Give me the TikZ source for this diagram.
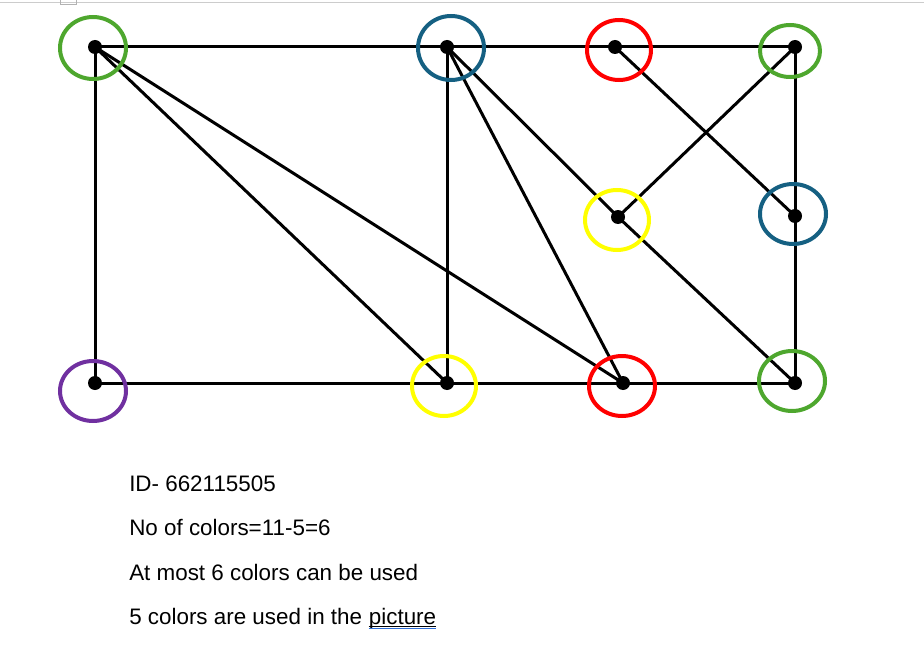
\documentclass[tikz,border=0pt]{standalone}
\usepackage{fontspec}
\setmainfont{Liberation Sans}
\usepackage{xcolor}
\usetikzlibrary{positioning}
\definecolor{cgreen}{HTML}{4EA72E}
\definecolor{cblue}{HTML}{156082}
\definecolor{cred}{HTML}{FF0000}
\definecolor{cyellow}{HTML}{FFFF00}
\definecolor{cpurple}{HTML}{7030A0}
\definecolor{spell}{HTML}{2F6FD8}
\tikzset{ring/.style={line width=3pt}}
\begin{document}
\begin{tikzpicture}[x=0.75pt,y=-0.75pt]
      \useasboundingbox (0,0) rectangle (924,649);
      \draw[gray!40,line width=0.75pt] (0,3) -- (924,3);
      \draw[gray!60,line width=0.75pt] (60,-1) rectangle (76,5);
      \begin{scope}[every node/.style={circle,fill=black,inner sep=0pt,minimum size=10.5pt}]
      \node (a) at (95,47) {};
      \node (b) at (447,47) {};
      \node (c) at (615,47) {};
      \node (d) at (795,47) {};
      \node (e) at (618,217) {};
      \node (f) at (795,216) {};
      \node (g) at (95,383) {};
      \node (h) at (447,383) {};
      \node (i) at (623,383) {};
      \node (j) at (795,383) {};
      \end{scope}
      \begin{scope}[every edge/.style={draw=black,line width=2.25pt}]
      \path (a.center) edge (b.center);
      \path (b.center) edge (c.center);
      \path (c.center) edge (d.center);
      \path (a.center) edge (g.center);
      \path (a.center) edge (h.center);
      \path (a.center) edge (i.center);
      \path (b.center) edge (h.center);
      \path (b.center) edge (i.center);
      \path (b.center) edge (e.center);
      \path (e.center) edge (j.center);
      \path (c.center) edge (f.center);
      \path (d.center) edge (e.center);
      \path (d.center) edge (f.center);
      \path (f.center) edge (j.center);
      \path (g.center) edge (h.center);
      \path (h.center) edge (i.center);
      \path (i.center) edge (j.center);
      \end{scope}
      % colour rings
      \foreach \x/\y/\rx/\ry/\col in {93/48/24.75/23.25/cgreen, 451/48/24.75/24/cblue,
          619/50/24/22.5/cred, 790/51/22.5/19.5/cgreen, 617/220/24/22.5/cyellow,
          793/214/24.75/22.5/cblue, 93/391/24.75/22.5/cpurple, 444/386/24/22.5/cyellow,
          622/386/24.75/22.5/cred, 792/381/24.75/22.5/cgreen}
        \draw[ring,draw=\col] (\x,\y) ellipse [x radius=\rx pt, y radius=\ry pt];
      \begin{scope}[every node/.style={anchor=base west,inner sep=0pt,font=\fontsize{16.8pt}{20pt}\selectfont}]
      \node (t1) at (129,491) {ID- 662115505};
      \node (t2) at (129,535) {No of colors=11-5=6};
      \node (t3) at (129,580) {At most 6 colors can be used};
      \node (t4) at (129,624) {5 colors are used in the};
      \node (pic) at ([xshift=4.7pt]t4.base east) {picture};
      \end{scope}
      \draw[black,line width=0.6pt] ([yshift=-1.5pt]pic.base west) -- ([yshift=-1.5pt]pic.base east);
      \draw[spell,line width=0.9pt] ([yshift=-3.2pt]pic.base west) -- ([yshift=-3.2pt]pic.base east);
      \end{tikzpicture}
\end{document}
